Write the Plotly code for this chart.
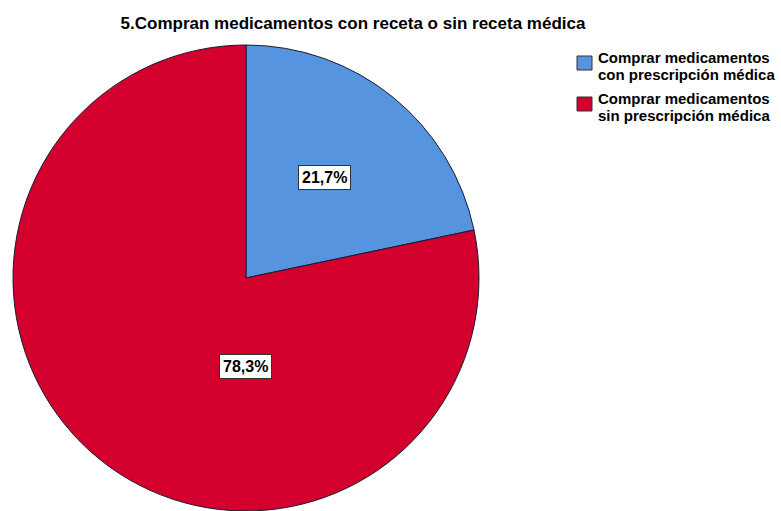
import math
import plotly.graph_objects as go

title = "5.Compran medicamentos con receta o sin receta médica"
labels = ["Comprar medicamentos con prescripción médica",
          "Comprar medicamentos sin prescripción médica"]
legend_lines = [["Comprar medicamentos", "con prescripción médica"],
                ["Comprar medicamentos", "sin prescripción médica"]]
values = [21.7, 78.3]
pct_text = ["21,7%", "78,3%"]
colors = ["#5794E0", "#D3002E"]

W, H = 781, 511
FONT = "Arial, Liberation Sans, sans-serif"
dom_x = [12 / W, 480 / W]
dom_y = [0.0, 1 - 45 / H]

fig = go.Figure(go.Pie(
    labels=labels, values=values, sort=False, direction="clockwise", rotation=0,
    marker=dict(colors=colors, line=dict(color="#1a1a2e", width=1)),
    textinfo="none", hoverinfo="label+percent",
    domain=dict(x=dom_x, y=dom_y), showlegend=False,
))

# percentage labels: placed along an angle from the pie centre
cx = (dom_x[0] + dom_x[1]) / 2 * W
cy = (1 - (dom_y[0] + dom_y[1]) / 2) * H
r = (dom_x[1] - dom_x[0]) * W / 2
total = sum(values)
mids = []
start = 90.0
for v in values:
    sweep = v / total * 360
    mids.append(start - sweep / 2)
    start -= sweep
angles = [mids[0] + 1, -90]
fracs = [0.545, 0.378]
for txt, a, f in zip(pct_text, angles, fracs):
    px = cx + f * r * math.cos(math.radians(a))
    py = cy - f * r * math.sin(math.radians(a))
    fig.add_annotation(x=px / W, y=1 - py / H, xref="paper", yref="paper",
                       xanchor="center", yanchor="middle",
                       text="<b>" + txt + "</b>", showarrow=False,
                       font=dict(family=FONT, size=16, color="black"),
                       bgcolor="white", bordercolor="#333333", borderwidth=1, borderpad=3)

# legend (drawn manually to match the compact SPSS layout)
leg_x, leg_y0, leg_step, line_h = 577, 56, 41, 17
for i, (lines, col) in enumerate(zip(legend_lines, colors)):
    top = leg_y0 + i * leg_step
    fig.add_shape(type="rect", xref="paper", yref="paper",
                  x0=leg_x / W, x1=(leg_x + 15) / W,
                  y0=1 - top / H, y1=1 - (top + 14) / H,
                  fillcolor=col, line=dict(color="#333333", width=1))
    for j, ln in enumerate(lines):
        fig.add_annotation(x=(leg_x + 20) / W, y=1 - (top + 1.5 + j * line_h) / H,
                           xref="paper", yref="paper", xanchor="left", yanchor="middle",
                           text="<b>" + ln + "</b>", showarrow=False, borderpad=0,
                           font=dict(family=FONT, size=15, color="black"))

fig.update_layout(
    width=W, height=H,
    margin=dict(l=0, r=0, t=0, b=0),
    paper_bgcolor="white", plot_bgcolor="white",
    title=dict(text="<b>" + title + "</b>", x=353 / W, xanchor="center",
               y=1 - 23.5 / H, yanchor="middle",
               font=dict(family=FONT, size=17, color="black")),
    showlegend=False,
)

fig.write_html("out.html", config={"displayModeBar": False},
               post_script="document.body.style.margin='0';")
